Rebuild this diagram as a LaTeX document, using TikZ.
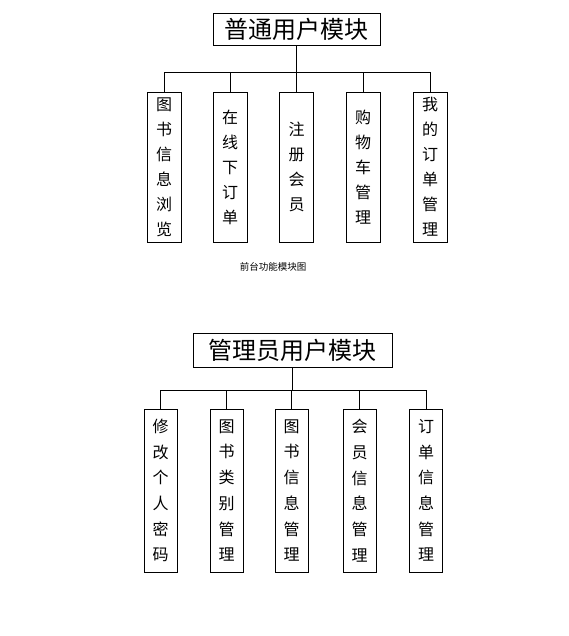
\documentclass[tikz,border=0pt]{standalone}
\usepackage{fontspec}
\setmainfont{Noto Sans CJK SC}

\begin{document}
\begin{tikzpicture}[x=1pt,y=1pt,line width=0.9pt,
  titlebox/.style={draw,inner sep=0pt,font=\fontsize{24}{24}\selectfont},
  itembox/.style={draw,inner sep=0pt,minimum width=34pt,align=center,font=\fontsize{16}{25}\selectfont}]
\useasboundingbox (0,0) rectangle (568,-636);
\node [titlebox,minimum width=167pt,minimum height=32pt] (user) at (296.5,-29) {普通用户模块};
\node [itembox,minimum height=150pt] (u1) at (164,-167) {图\\书\\信\\息\\浏\\览};
\node [itembox,minimum height=150pt] (u2) at (230,-167) {在\\线\\下\\订\\单};
\node [itembox,minimum height=150pt] (u3) at (296.5,-167) {注\\册\\会\\员};
\node [itembox,minimum height=150pt] (u4) at (363,-167) {购\\物\\车\\管\\理};
\node [itembox,minimum height=150pt] (u5) at (430,-167) {我\\的\\订\\单\\管\\理};
\foreach \i in {1,...,5}
  \draw (user.south) -- ++(0,-27) -| (u\i.north);
\node [font=\fontsize{9.5}{10}\selectfont] (cap) at (273,-267) {前台功能模块图};
\node [titlebox,minimum width=199pt,minimum height=34pt] (admin) at (292.5,-350) {管理员用户模块};
\node [itembox,minimum width=33pt,minimum height=163pt,font=\fontsize{16}{25.7}\selectfont] (a1) at (160.5,-490.5) {修\\改\\个\\人\\密\\码};
\node [itembox,minimum width=33pt,minimum height=163pt,font=\fontsize{16}{25.7}\selectfont] (a2) at (226.5,-490.5) {图\\书\\类\\别\\管\\理};
\node [itembox,minimum width=33pt,minimum height=163pt,font=\fontsize{16}{25.7}\selectfont] (a3) at (291.5,-490.5) {图\\书\\信\\息\\管\\理};
\node [itembox,minimum width=33pt,minimum height=163pt,font=\fontsize{16}{25.7}\selectfont] (a4) at (359.5,-490.5) {会\\员\\信\\息\\管\\理};
\node [itembox,minimum width=33pt,minimum height=163pt,font=\fontsize{16}{25.7}\selectfont] (a5) at (426,-490.5) {订\\单\\信\\息\\管\\理};
\foreach \i in {1,...,5}
  \draw (admin.south) -- ++(0,-23) -| (a\i.north);
\end{tikzpicture}
\end{document}
